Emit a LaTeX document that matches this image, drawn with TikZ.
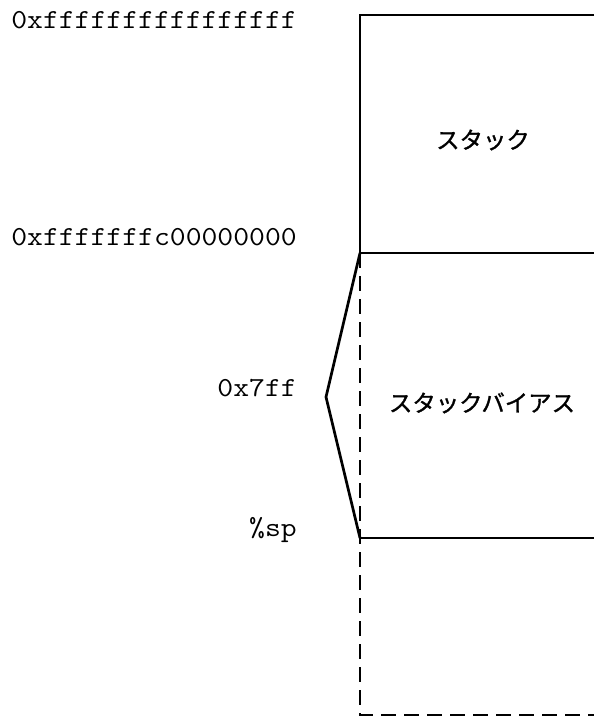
\documentclass[tikz,border=0pt]{standalone}
\usepackage{fontspec}
\newfontfamily\addrfont[FakeStretch=1.12]{Latin Modern Mono}
\newfontfamily\cjk[FakeBold=1.2]{Noto Sans CJK JP}
\begin{document}
\begin{tikzpicture}[x=1pt,y=-1pt,
  line/.style={line width=2.7pt},
  dline/.style={line width=2.7pt,dash pattern=on 15pt off 8pt},
  addr/.style={font=\addrfont\fontsize{27.5}{27.5}\selectfont,anchor=east,inner sep=0pt},
  jp/.style={font=\cjk\fontsize{23.4}{23.4}\selectfont,inner sep=0pt}]
\useasboundingbox (0,0) rectangle (594,717);
\coordinate (tl) at (360,15);
\coordinate (tr) at (594,15);
\coordinate (ml) at (360,253);
\coordinate (mr) at (594,253);
\coordinate (sl) at (360,538);
\coordinate (sr) at (594,538);
\coordinate (bl) at (360,715);
\coordinate (br) at (594,715);
\coordinate (tip) at (326,397);
\draw[line] (tr) -- (tl) -- (ml) -- (mr);
\draw[line] (sl) -- (sr);
\draw[dline] (ml) -- (bl) -- (br);
\draw[line] (ml) -- (tip) -- (sl);
\node[jp] (stack) at (483,140) {スタック};
\node[jp] (bias) at (482,403) {スタックバイアス};
\node[addr] (a1) at (297,20) {0xffffffffffffffff};
\node[addr] (a2) at (297,237) {0xfffffffc00000000};
\node[addr] (a3) at (297,388) {0x7ff};
\node[addr] (a4) at (297,530) {\%sp};
\end{tikzpicture}
\end{document}
